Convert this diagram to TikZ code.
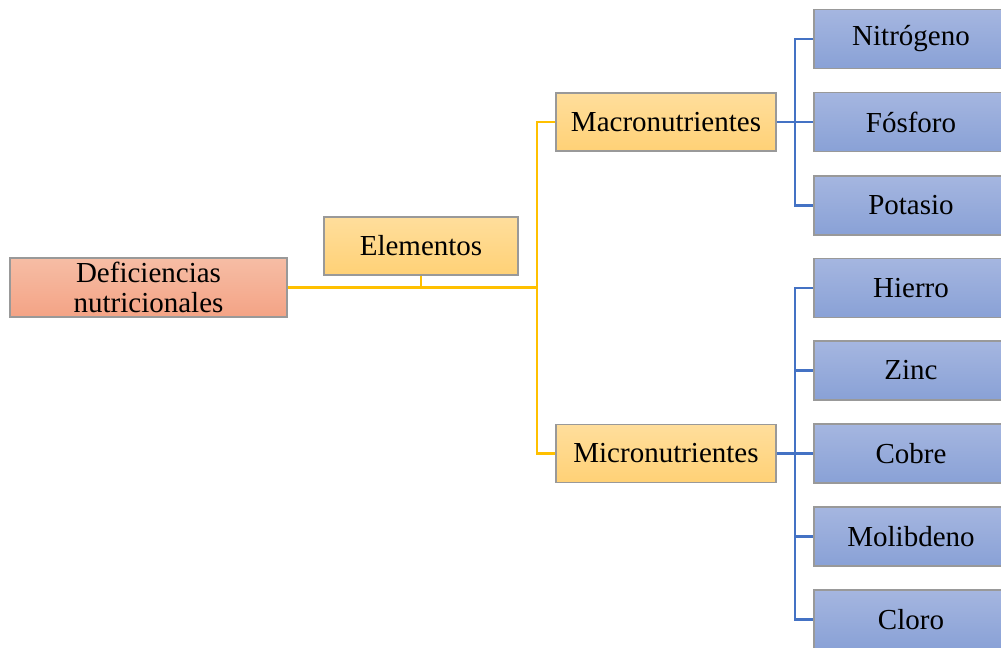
\documentclass[tikz,border=0pt]{standalone}
\usepackage{fontspec}
\setmainfont{Liberation Serif}
\usepackage{tikz}
\usetikzlibrary{positioning, calc}
\definecolor{salmontop}{HTML}{F6BDA5}
\definecolor{salmonbot}{HTML}{F4A385}
\definecolor{goldtop}{HTML}{FFDE9C}
\definecolor{goldbot}{HTML}{FFD176}
\definecolor{bluetop}{HTML}{A5B6E0}
\definecolor{bluebot}{HTML}{89A1D6}
\definecolor{yline}{HTML}{FFC000}
\definecolor{bline}{HTML}{4472C4}
\tikzset{basebox/.style={rectangle, draw=black!40, line width=.8pt, inner sep=2pt, align=center, font=\fontsize{16.5}{17}\selectfont},
    rootbox/.style={basebox, top color=salmontop, bottom color=salmonbot, minimum width=5.54cm, minimum height=1.18cm},
    goldbox/.style={basebox, top color=goldtop, bottom color=goldbot, minimum height=1.16cm},
    leafbox/.style={basebox, top color=bluetop, bottom color=bluebot, minimum width=3.88cm, minimum height=1.18cm},
    ylink/.style={draw=yline, line width=1.7pt},
    blink/.style={draw=bline, line width=1.7pt}}

\begin{document}
\begin{tikzpicture}
                 \useasboundingbox (0,0) rectangle (20.02,-12.96);
                 \clip (0,0) rectangle (20.02,-12.96);

                 \node[rootbox] (def) at (2.97,-5.75) {Deficiencias\\nutricionales};
                 \node[goldbox, minimum width=3.88cm] (elem) at (8.42,-4.92) {Elementos};
                 \node[goldbox, minimum width=4.4cm] (macro) at (13.32,-2.44) {Macronutrientes};
                 \node[goldbox, minimum width=4.4cm] (micro) at (13.32,-9.07) {Micronutrientes};

                 \node[leafbox] (nit) at (18.22,-0.78) {Nitrógeno};
                 \node[leafbox] (fos) at (18.22,-2.44) {Fósforo};
                 \node[leafbox] (pot) at (18.22,-4.11) {Potasio};

                 \node[leafbox] (hie) at (18.22,-5.76) {Hierro};
                 \node[leafbox] (zin) at (18.22,-7.41) {Zinc};
                 \node[leafbox] (cob) at (18.22,-9.07) {Cobre};
                 \node[leafbox] (mol) at (18.22,-10.73) {Molibdeno};
                 \node[leafbox] (clo) at (18.22,-12.39) {Cloro};

                 % yellow links
                 \coordinate (yj) at (10.74,-5.75);
                 \draw[ylink] (def.east) -- (yj);
                 \draw[ylink] (elem.south) -- (elem.south |- yj);
                 \draw[ylink] (macro.west) -| (yj) |- (micro.west);

                 % blue links
                 \coordinate (bj1) at (15.9,-2.44);
                 \coordinate (bj2) at (15.9,-9.07);
                 \draw[blink] (macro.east) -- (fos.west);
                 \draw[blink] (nit.west) -| (bj1) |- (pot.west);
                 \draw[blink] (micro.east) -- (cob.west);
                 \draw[blink] (hie.west) -| (bj2) |- (clo.west);
                 \foreach \n in {zin, mol}
                   \draw[blink] (bj2 |- \n.west) -- (\n.west);
             \end{tikzpicture}
\end{document}
